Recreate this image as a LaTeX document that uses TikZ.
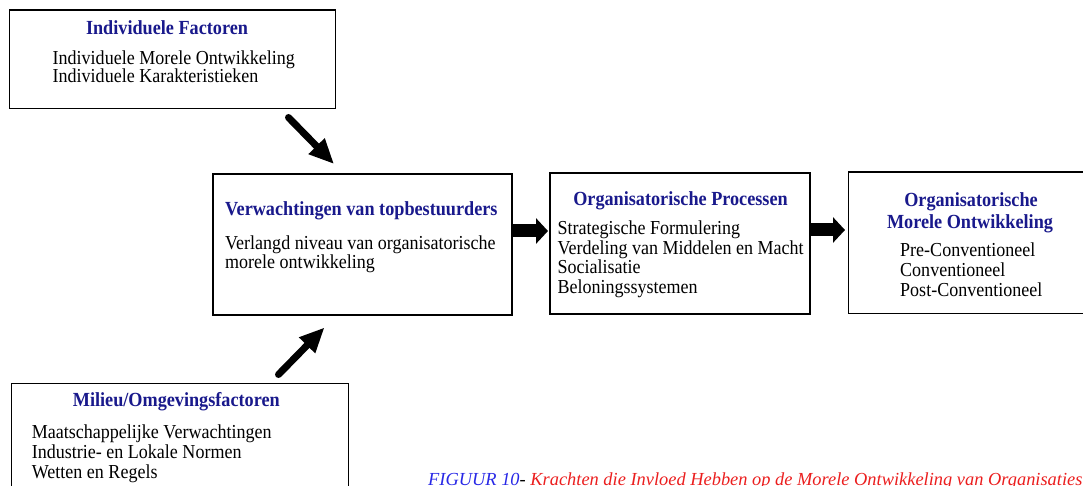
\documentclass[tikz,border=0pt]{standalone}
\usepackage{fontspec}
\setmainfont[FakeStretch=0.91]{Liberation Serif}
\newfontfamily\capfont{Liberation Serif}
\usetikzlibrary{arrows.meta}
\definecolor{titleblue}{RGB}{25,25,140}
\definecolor{capblue}{RGB}{40,40,230}
\definecolor{capred}{RGB}{235,30,30}
\begin{document}
\begin{tikzpicture}[x=1pt,y=-1pt,
  box/.style={draw=black, line width=1.6pt, inner sep=0pt, outer sep=0pt, fill=white},
  ttl/.style={font=\fontsize{20}{20}\selectfont\bfseries, text=titleblue, inner sep=0pt, anchor=base},
  txt/.style={font=\fontsize{19.8}{20.3}\selectfont, inner sep=0pt, anchor=base west},
  bigarrow/.style={line width=7pt, line cap=round, -{Triangle[length=25pt,width=21pt]}},
  blockarrow/.style={line width=13pt, -{Triangle[length=12pt,width=25pt]}},
  captxt/.style={font=\capfont\fontsize{18.4}{20}\selectfont\itshape, inner sep=0pt, anchor=base west},
]
\useasboundingbox (0,0) rectangle (1083,486);
\clip (0,0) rectangle (1083,486);

% boxes
\node[box, minimum width=326pt, minimum height=98.5pt] (b1) at (172.5,59.25) {};
\node[box, minimum width=299pt, minimum height=141pt] (b2) at (362.5,244.5) {};
\node[box, minimum width=260pt, minimum height=141pt] (b3) at (680,243.5) {};
\node[box, minimum width=246.5pt, minimum height=141.5pt] (b4) at (971.75,242.75) {};
\node[box, minimum width=337pt, minimum height=116.5pt] (b5) at (180,441.75) {};

% box 1
\node[ttl] (t1) at (167,34.5) {Individuele Factoren};
\node[txt] (l11) at (52.5,64.3) {Individuele Morele Ontwikkeling};
\node[txt] (l12) at (52.5,82.7) {Individuele Karakteristieken};

% box 2
\node[ttl, anchor=base west] (t2) at (225,215.7) {Verwachtingen van topbestuurders};
\node[txt] (l21) at (225,250) {Verlangd niveau van organisatorische};
\node[txt] (l22) at (225,268.3) {morele ontwikkeling};

% box 3
\node[ttl] (t3) at (680.5,206) {Organisatorische Processen};
\node[txt] (l31) at (557.3,234) {Strategische Formulering};
\node[txt] (l32) at (557.3,254.5) {Verdeling van Middelen en Macht};
\node[txt] (l33) at (557.3,273.7) {Socialisatie};
\node[txt] (l34) at (557.3,293.3) {Beloningssystemen};

% box 4
\node[ttl] (t4a) at (971,206.7) {Organisatorische};
\node[ttl] (t4b) at (970,229) {Morele Ontwikkeling};
\node[txt] (l41) at (900,256.7) {Pre-Conventioneel};
\node[txt] (l42) at (900,276.7) {Conventioneel};
\node[txt] (l43) at (900,296.7) {Post-Conventioneel};

% box 5
\node[ttl] (t5) at (176.3,406) {Milieu/Omgevingsfactoren};
\node[txt] (l51) at (31.7,438.3) {Maatschappelijke Verwachtingen};
\node[txt] (l52) at (31.7,458.5) {Industrie- en Lokale Normen};
\node[txt] (l53) at (31.7,478.3) {Wetten en Regels};

% arrows
\coordinate (a1s) at (288.5,117.5);
\coordinate (a1e) at (334,164);
\coordinate (a2s) at (278.5,374.5);
\coordinate (a2e) at (324.5,327.5);
\draw[bigarrow] (a1s) -- (a1e);
\draw[bigarrow] (a2s) -- (a2e);
\draw[blockarrow] ([yshift=13.5pt,xshift=0.8pt]b2.east) -- ([yshift=12.5pt,xshift=-2pt]b3.west);
\draw[blockarrow] ([yshift=13.5pt,xshift=0.8pt]b3.east) -- ([yshift=12.75pt,xshift=-3.5pt]b4.west);

% caption
\node[captxt] (cap) at (428,485) {\textcolor{capblue}{FIGUUR 10}-\ \textcolor{capred}{Krachten die Invloed Hebben op de Morele Ontwikkeling van Organisaties}};
\end{tikzpicture}
\end{document}
